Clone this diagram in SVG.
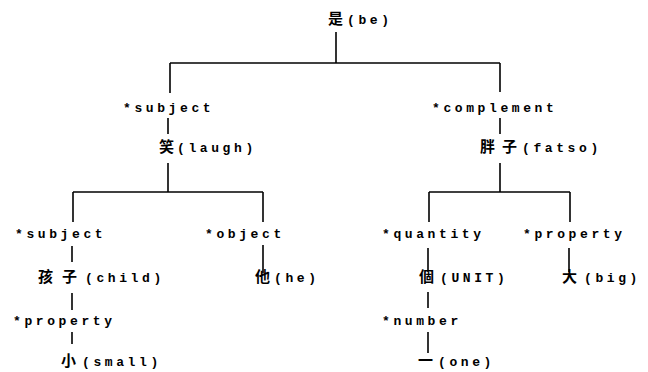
<svg xmlns="http://www.w3.org/2000/svg" width="648" height="372" viewBox="0 0 648 372">
  <style>
    .lbl { font-family: "Liberation Mono", "DejaVu Sans Mono", monospace; font-size: 13px; font-weight: bold; letter-spacing: 3.6px; fill: #000; }
    .cjk { font-family: "Noto Sans CJK TC", "Noto Sans CJK SC", sans-serif; font-size: 15px; font-weight: bold; fill: #000; }
    .conn path { fill: none; stroke: #000; stroke-width: 1.6; }
  </style>
  <rect width="648" height="372" fill="#fff"/>

  <g class="conn" id="connectors">
    <path d="M336 32 V63"/>
    <path d="M170 63 H500"/>
    <path d="M170 63 V93"/>
    <path d="M168 118 V134"/>
    <path d="M168 163 V192"/>
    <path d="M73 192 H263"/>
    <path d="M500 63 V92"/>
    <path d="M500 118 V134"/>
    <path d="M500 163 V192"/>
    <path d="M429 192 H570"/>
    <path d="M73 192 V222"/>
    <path d="M72 246 V262"/>
    <path d="M72 293 V310"/>
    <path d="M72 332 V344"/>
    <path d="M263 192 V222"/>
    <path d="M263 245 V273"/>
    <path d="M429 192 V222"/>
    <path d="M428 248 V272"/>
    <path d="M428 292 V308"/>
    <path d="M428 332 V353"/>
    <path d="M570 192 V222"/>
    <path d="M569 248 V272"/>
  </g>

  <g id="be">
    <text class="cjk" x="328" y="24">是</text>
    <text class="lbl" x="347" y="24">(be)</text>
  </g>
  <g id="subject-1">
    <text class="lbl" x="123" y="112">*subject</text>
  </g>
  <g id="laugh">
    <text class="cjk" x="159" y="152">笑</text>
    <text class="lbl" x="177" y="152">(laugh)</text>
  </g>
  <g id="complement">
    <text class="lbl" x="432" y="112">*complement</text>
  </g>
  <g id="fatso">
    <text class="cjk" x="480" y="152">胖</text>
    <text class="cjk" x="502" y="152">子</text>
    <text class="lbl" x="522" y="152">(fatso)</text>
  </g>
  <g id="subject-2">
    <text class="lbl" x="15" y="238">*subject</text>
  </g>
  <g id="child">
    <text class="cjk" x="38" y="282">孩</text>
    <text class="cjk" x="62" y="282">子</text>
    <text class="lbl" x="85" y="282">(child)</text>
  </g>
  <g id="property-1">
    <text class="lbl" x="13" y="325">*property</text>
  </g>
  <g id="small">
    <text class="cjk" x="61" y="366">小</text>
    <text class="lbl" x="82" y="366">(small)</text>
  </g>
  <g id="object">
    <text class="lbl" x="205" y="238">*object</text>
  </g>
  <g id="he">
    <text class="cjk" x="255" y="282">他</text>
    <text class="lbl" x="274" y="282">(he)</text>
  </g>
  <g id="quantity">
    <text class="lbl" x="382" y="238">*quantity</text>
  </g>
  <g id="unit">
    <text class="cjk" x="419" y="282">個</text>
    <text class="lbl" x="440" y="282">(UNIT)</text>
  </g>
  <g id="number">
    <text class="lbl" x="382" y="325">*number</text>
  </g>
  <g id="one">
    <text class="cjk" x="418" y="366">一</text>
    <text class="lbl" x="438" y="366">(one)</text>
  </g>
  <g id="property-2">
    <text class="lbl" x="523" y="238">*property</text>
  </g>
  <g id="big">
    <text class="cjk" x="562" y="282">大</text>
    <text class="lbl" x="584" y="282">(big)</text>
  </g>
</svg>
